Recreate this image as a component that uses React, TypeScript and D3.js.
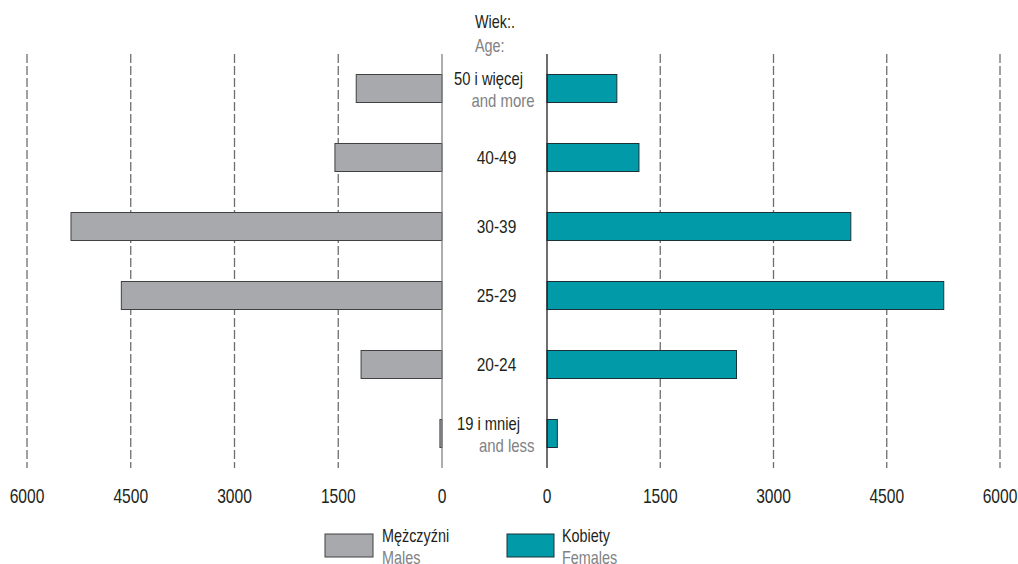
import React from "react";
import * as d3 from "d3";

const categories = ["50 i więcej", "40-49", "30-39", "25-29", "20-24", "19 i mniej"];
const categoriesEn = ["and more", "", "", "", "", "and less"];
const males = [1240, 1548, 5364, 4636, 1170, 30];
const females = [925, 1218, 4024, 5255, 2510, 137];
const ticks = [0, 1500, 3000, 4500, 6000];

const W = 1018;
const H = 564;
const FONT = "'Liberation Sans', Arial, sans-serif";
const BLACK = "#231f20";
const GRAY_TXT = "#808285";
const GRID = "#6d6e71";
const MALE = "#a7a9ac";
const FEMALE = "#009aa8";

type TxtProps = {
  x: number;
  y: number;
  size: number;
  sx: number;
  fill: string;
  anchor?: "start" | "middle" | "end";
  children: React.ReactNode;
};

function Txt({ x, y, size, sx, fill, anchor = "start", children }: TxtProps) {
  return (
    <text transform={`translate(${x},${y}) scale(${sx},1)`} textAnchor={anchor} fontSize={size} fill={fill}>
      {children}
    </text>
  );
}

export default function App() {
  const xL = d3.scaleLinear().domain([0, 6000]).range([442, 27]);
  const xR = d3.scaleLinear().domain([0, 6000]).range([547, 1000]);
  const y = d3.scaleBand<string>().domain(categories).range([54, 468]).paddingInner(0.594).paddingOuter(0.297);
  const top = 54;
  const bottom = 468;
  const mid = (442 + 547) / 2;

  return (
    <svg width={W} height={H} style={{ position: "absolute", left: 0, top: 0, background: "#fff" }} fontFamily={FONT}>
      {ticks.filter((t) => t > 0).map((t) => (
        <g key={"g" + t}>
          <line x1={xL(t)} x2={xL(t)} y1={top} y2={bottom} stroke={GRID} strokeWidth={1.3} strokeDasharray="9,3" />
          <line x1={xR(t)} x2={xR(t)} y1={top} y2={bottom} stroke={GRID} strokeWidth={1.3} strokeDasharray="9,3" />
        </g>
      ))}
      {categories.map((c, i) => (
        <g key={c}>
          <rect x={xL(males[i])} y={y(c)!} width={xL(0) - xL(males[i])} height={y.bandwidth()} fill={MALE} stroke="#414042" strokeWidth={1} />
          <rect x={xR(0)} y={y(c)!} width={xR(females[i]) - xR(0)} height={y.bandwidth()} fill={FEMALE} stroke="#1c3238" strokeWidth={1} />
        </g>
      ))}
      <line x1={xL(0)} x2={xL(0)} y1={top} y2={bottom} stroke="#808285" strokeWidth={1.3} />
      <line x1={xR(0)} x2={xR(0)} y1={top} y2={bottom} stroke="#231f20" strokeWidth={1.3} />
      {categories.map((c, i) => {
        const cy = y(c)! + y.bandwidth() / 2;
        if (categoriesEn[i]) {
          return (
            <g key={"l" + c}>
              <Txt x={mid - 6} y={cy - 4} anchor="middle" size={18} sx={0.82} fill={BLACK}>{c}</Txt>
              <Txt x={mid + 40} y={cy + 18} anchor="end" size={18} sx={0.83} fill={GRAY_TXT}>{categoriesEn[i]}</Txt>
            </g>
          );
        }
        return (
          <Txt key={"l" + c} x={mid + 2} y={cy + 6} anchor="middle" size={18} sx={0.86} fill={BLACK}>{c}</Txt>
        );
      })}
      <Txt x={475} y={28} size={18} sx={0.8} fill={BLACK}>Wiek:.</Txt>
      <Txt x={475} y={52} size={18} sx={0.8} fill={GRAY_TXT}>Age:</Txt>
      {ticks.map((t) => (
        <g key={"t" + t}>
          <Txt x={xL(t)} y={503} anchor="middle" size={20} sx={0.78} fill={BLACK}>{t}</Txt>
          <Txt x={xR(t)} y={503} anchor="middle" size={20} sx={0.78} fill={BLACK}>{t}</Txt>
        </g>
      ))}
      <rect x={325} y={534} width={48} height={23} fill={MALE} stroke="#414042" strokeWidth={1} />
      <Txt x={382} y={542} size={18} sx={0.8} fill={BLACK}>Mężczyźni</Txt>
      <Txt x={382} y={564} size={18} sx={0.8} fill={GRAY_TXT}>Males</Txt>
      <rect x={507} y={534} width={47} height={23} fill={FEMALE} stroke="#1c3238" strokeWidth={1} />
      <Txt x={562} y={542} size={18} sx={0.8} fill={BLACK}>Kobiety</Txt>
      <Txt x={562} y={564} size={18} sx={0.8} fill={GRAY_TXT}>Females</Txt>
    </svg>
  );
}
